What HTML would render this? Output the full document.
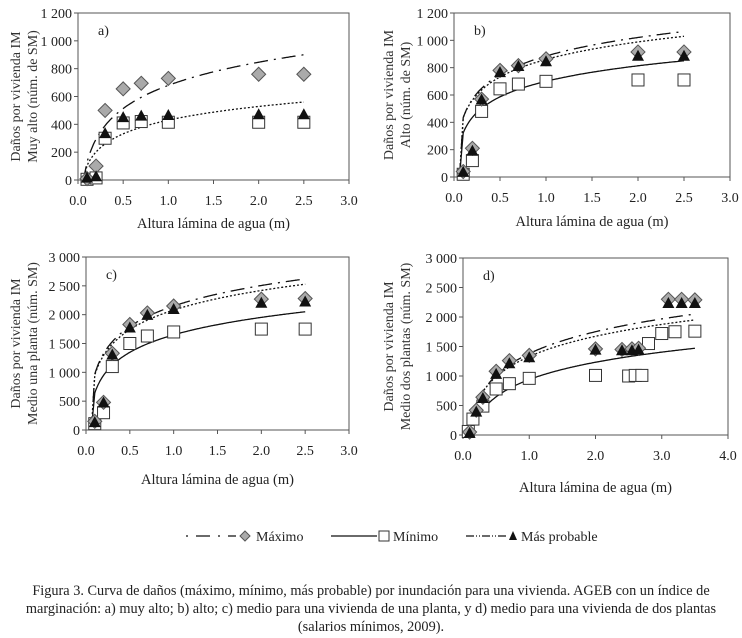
<!DOCTYPE html>
<html><head><meta charset="utf-8"><style>
body{margin:0;background:#fff;}
svg{display:block;font-family:"Liberation Serif",serif;}
</style></head><body>
<svg id="fig" width="742" height="638" viewBox="0 0 742 638"></svg>
<script>
// ---- Data ----
const axA_x=[0,0.5,1,1.5,2,2.5,3];
const axA_yt=[0,200,400,600,800,1000,1200];
const axA_ylab=["0","200","400","600","800","1 000","1 200"];
const aX=[0.1,0.2,0.3,0.5,0.7,1.0,2.0,2.5];
const aMax=[10,100,500,655,695,730,760,760];
const aMin=[5,15,300,410,420,415,415,415];
const aProb=[10,20,330,445,455,460,465,465];
const bX=[0.1,0.2,0.3,0.5,0.7,1.0,2.0,2.5];
const bMax=[40,210,570,780,815,865,915,915];
const bMin=[20,120,480,645,680,700,710,710];
const bProb=[30,185,560,760,805,840,880,880];
const cX=[0.1,0.2,0.3,0.5,0.7,1.0,2.0,2.5];
const cMax=[150,480,1330,1830,2030,2150,2270,2280];
const cMin=[110,300,1100,1500,1630,1700,1750,1750];
const cProb=[120,460,1290,1760,1980,2080,2190,2210];
const dX=[0.1,0.2,0.3,0.5,0.7,1.0,2.0,2.4,2.55,2.65,3.1,3.3,3.5];
const dMax=[50,420,640,1080,1260,1350,1460,1450,1460,1470,2300,2300,2290];
const dProb=[20,380,610,1020,1200,1300,1430,1420,1420,1430,2220,2220,2220];
const dMinX=[0.08,0.15,0.3,0.5,0.7,1.0,2.0,2.5,2.6,2.7,2.8,3.0,3.2,3.5];
const dMin=[60,270,490,780,870,960,1010,1000,1010,1010,1550,1720,1750,1760];
// log trend coefficients [a,b] for y=a*ln(x)+b
const aFitMax=[240,680], aFitProb=[142,430];
const bFitMax=[196,885], bFitProb=[185,860], bFitMin=[164,700];
const cFitMax=[513,2150], cFitProb=[490,2080], cFitMin=[437,1650];
const dFitMax=[535,1380], dFitProb=[495,1330], dFitMin=[423,940];

const NS="http://www.w3.org/2000/svg";
const svg=document.getElementById('fig');
function el(tag,attrs,parent,text){const e=document.createElementNS(NS,tag);for(const k in attrs)e.setAttribute(k,attrs[k]);if(text!==undefined)e.textContent=text;(parent||svg).appendChild(e);return e;}

function panel(cfg){
  const g=el('g',{});
  
  
  const sx=v=>cfg.x0+(v-cfg.xmin)/(cfg.xmax-cfg.xmin)*(cfg.x1-cfg.x0);
  const sy=v=>cfg.y0-(v/cfg.ymax)*(cfg.y0-cfg.y1);
  const fr=el('rect',{x:cfg.x0,y:cfg.y1,width:cfg.x1-cfg.x0,height:cfg.y0-cfg.y1,fill:'none',stroke:'#555','stroke-width':1},g);
  
  
  cfg.yt.forEach((v,i)=>{
    el('line',{x1:cfg.x0-4,x2:cfg.x0,y1:sy(v),y2:sy(v),stroke:'#555'},g);
    const t=el('text',{x:cfg.x0-6,y:sy(v)+5,'text-anchor':'end','font-size':14,fill:'#222'},g,cfg.ylab[i]);
    
    
  });
  cfg.xt.forEach((v,i)=>{
    el('line',{x1:sx(v),x2:sx(v),y1:cfg.y0,y2:cfg.y0+4,stroke:'#555'},g);
    const t=el('text',{x:sx(v),y:cfg.y0+25,'text-anchor':'middle','font-size':14,fill:'#222'},g,cfg.xlab[i]);
    
    
  });
  const xt=el('text',{x:(cfg.x0+cfg.x1)/2,y:cfg.xly,'text-anchor':'middle','font-size':14.5,fill:'#222'},g,'Altura lámina de agua (m)');
  
  
  const yc=(cfg.y0+cfg.y1)/2;
  const yt=el('text',{transform:`translate(${cfg.ylx},${yc}) rotate(-90)`,'text-anchor':'middle','font-size':14,fill:'#333'},g);
  
  
  el('tspan',{x:0,dy:0},yt,'Daños por vivienda IM');
  el('tspan',{x:0,dy:17},yt,cfg.ysub);
  const lb=el('text',{x:cfg.x0+20,y:cfg.y1+22,'font-size':14,fill:'#222'},g,cfg.id+')');
  
  
  cfg.fits.forEach(f=>{
    const [a,b]=f.c;let pts=[sx(0.06).toFixed(1)+','+sy(0).toFixed(1)];
    const xs=0.1;
    for(let i=0;i<=200;i++){const x=xs+(f.end-xs)*i/200;const y=a*Math.log(x)+b;if(y<0)continue;pts.push(sx(x).toFixed(1)+','+sy(y).toFixed(1));}
    const p=el('polyline',{points:pts.join(' '),fill:'none',stroke:'#111','stroke-width':f.w||1.3,'stroke-dasharray':f.dash||'none'},g);
    
    
  });
  cfg.series.forEach(s=>{
    s.y.forEach((v,i)=>{
      const x=sx(s.x[i]),y=sy(v);let m;
      if(s.type==='d') m=el('polygon',{points:`${x},${y-7} ${x+7},${y} ${x},${y+7} ${x-7},${y}`,fill:'#aaa',stroke:'#555','stroke-width':1},g);
      else if(s.type==='s') m=el('rect',{x:x-6,y:y-6,width:12,height:12,fill:'#fff',stroke:'#333','stroke-width':1},g);
      else m=el('polygon',{points:`${x},${y-7} ${x+6},${y+4} ${x-6},${y+4}`,fill:'#111'},g);
      
      
    });
  });
}
const xl3=["0.0","0.5","1.0","1.5","2.0","2.5","3.0"];
const dash='14,6,2,6';
panel({id:'a',x0:78,x1:349,y0:180,y1:13,xmin:0,xmax:3,ymax:1200,xt:axA_x,xlab:xl3,yt:axA_yt,ylab:axA_ylab,xly:228,ylx:20,ysub:'Muy alto (núm. de SM)',
 fits:[{c:aFitMax,end:2.5,dash:dash,name:'trend-maximo'},{c:aFitProb,end:2.5,dash:'2,2',name:'trend-mas-probable'}],
 series:[{x:aX,y:aMin,type:'s',name:'point-minimo'},{x:aX,y:aMax,type:'d',name:'point-maximo'},{x:aX,y:aProb,type:'t',name:'point-mas-probable'}]});
panel({id:'b',x0:454,x1:730,y0:177,y1:13,xmin:0,xmax:3,ymax:1200,xt:axA_x,xlab:xl3,yt:axA_yt,ylab:axA_ylab,xly:226,ylx:393,ysub:'Alto (núm. de SM)',
 fits:[{c:bFitMax,end:2.45,dash:dash,name:'trend-maximo'},{c:bFitProb,end:2.5,dash:'2,2',name:'trend-mas-probable'},{c:bFitMin,end:2.5,name:'trend-minimo'}],
 series:[{x:bX,y:bMin,type:'s',name:'point-minimo'},{x:bX,y:bMax,type:'d',name:'point-maximo'},{x:bX,y:bProb,type:'t',name:'point-mas-probable'}]});
const yt3=[0,500,1000,1500,2000,2500,3000];
const yl3=["0","500","1 000","1 500","2 000","2 500","3 000"];
panel({id:'c',x0:86,x1:349,y0:430,y1:257,xmin:0,xmax:3,ymax:3000,xt:axA_x,xlab:xl3,yt:yt3,ylab:yl3,xly:484,ylx:20,ysub:'Medio una planta (núm.  SM)',
 fits:[{c:cFitMax,end:2.5,dash:dash,name:'trend-maximo'},{c:cFitProb,end:2.5,dash:'2,2',name:'trend-mas-probable'},{c:cFitMin,end:2.5,name:'trend-minimo'}],
 series:[{x:cX,y:cMin,type:'s',name:'point-minimo'},{x:cX,y:cMax,type:'d',name:'point-maximo'},{x:cX,y:cProb,type:'t',name:'point-mas-probable'}]});
panel({id:'d',x0:463,x1:728,y0:435,y1:258,xmin:0,xmax:4,ymax:3000,xt:[0,1,2,3,4],xlab:["0.0","1.0","2.0","3.0","4.0"],yt:yt3,ylab:yl3,xly:492,ylx:393,ysub:'Medio dos plantas (núm.  SM)',
 fits:[{c:dFitMax,end:3.5,dash:dash,name:'trend-maximo'},{c:dFitProb,end:3.5,dash:'2,2',name:'trend-mas-probable'},{c:dFitMin,end:3.5,name:'trend-minimo'}],
 series:[{x:dMinX,y:dMin,type:'s',name:'point-minimo'},{x:dX,y:dMax,type:'d',name:'point-maximo'},{x:dX,y:dProb,type:'t',name:'point-mas-probable'}]});
</script>
<svg style="position:absolute;left:0;top:0" width="742" height="638">
 <g font-family="Liberation Serif,serif" font-size="14" fill="#222">
  <g>
   <line x1="186" y1="536" x2="236" y2="536" stroke="#111" stroke-width="1.3" stroke-dasharray="2,8,14,8"/>
   <polygon points="245,531 250,536 245,541 240,536" fill="#aaa" stroke="#555"/>
   <text x="256" y="541">Máximo</text>
  </g>
  <g>
   <line x1="331" y1="536" x2="377" y2="536" stroke="#111" stroke-width="1.3"/>
   <rect x="379" y="531" width="10" height="10" fill="#fff" stroke="#333"/>
   <text x="393" y="541">Mínimo</text>
  </g>
  <g>
   <line x1="466" y1="536" x2="508" y2="536" stroke="#111" stroke-width="1.3" stroke-dasharray="8,2,1,2,1,2"/>
   <polygon points="513,531 517,540 509,540" fill="#111"/>
   <text x="521" y="541">Más probable</text>
  </g>
 </g>
 <g font-family="Liberation Serif,serif" font-size="14.3" fill="#222" text-anchor="middle">
  <text x="371" y="595">Figura 3. Curva de daños (máximo, mínimo, más probable) por inundación para una vivienda. AGEB con un índice de</text>
  <text x="371" y="613">marginación: a) muy alto; b) alto; c) medio para una vivienda de una planta, y d) medio para una vivienda de dos plantas</text>
  <text x="371" y="631">(salarios mínimos, 2009).</text>
 </g>
</svg>
</body></html>
